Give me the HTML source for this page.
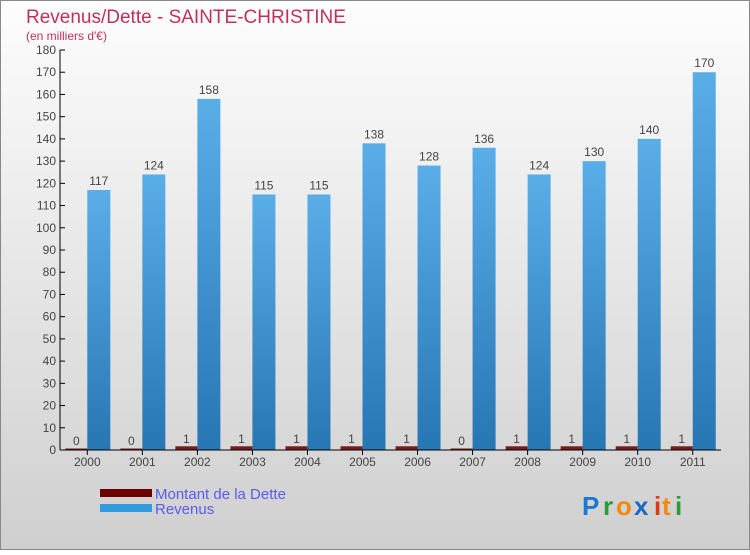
<!DOCTYPE html>
<html><head><meta charset="utf-8"><style>
body{margin:0;width:750px;height:550px;overflow:hidden;font-family:"Liberation Sans",sans-serif}
</style></head><body>
<svg width="750" height="550">
<defs>
<linearGradient id="bg" x1="0" y1="0" x2="0" y2="1"><stop offset="0" stop-color="#fdfdfd"/><stop offset="1" stop-color="#cfcfcf"/></linearGradient>
<linearGradient id="bl" x1="0" y1="0" x2="0" y2="1"><stop offset="0" stop-color="#5aaee8"/><stop offset="1" stop-color="#2676b3"/></linearGradient>
</defs>
<rect x="0.5" y="0.5" width="749" height="549" fill="url(#bg)" stroke="#888"/>
<text x="26" y="23" font-size="19" fill="#c0305e">Revenus/Dette - SAINTE-CHRISTINE</text>
<text x="26" y="40" font-size="12" fill="#c0305e">(en milliers d'€)</text>
<g id="plot"></g>
<g>
<rect x="100" y="489" width="52" height="8" fill="#6b0000"/>
<text x="155" y="499" font-size="15" fill="#5a5af0">Montant de la Dette</text>
<rect x="100" y="504" width="52" height="8" fill="#3399dd"/>
<text x="155" y="514" font-size="15" fill="#5a5af0">Revenus</text>
</g>
<g font-size="26" font-weight="bold">
<text x="582" y="515" fill="#1a7ad0">P</text><text x="603" y="515" fill="#2a9a3a">r</text><text x="616" y="515" fill="#f08a10">o</text><text x="634" y="515" fill="#1a6ac0">x</text><text x="654" y="515" fill="#e03a10">i</text><text x="662" y="515" fill="#f08a10">t</text><text x="675" y="515" fill="#2a9a3a">i</text>
</g>
</svg>
<script>
const years=["2000","2001","2002","2003","2004","2005","2006","2007","2008","2009","2010","2011"];
const debt=[0,0,1,1,1,1,1,0,1,1,1,1];
const revenue=[117,124,158,115,115,138,128,136,124,130,140,170];
const yTicks=[0,10,20,30,40,50,60,70,80,90,100,110,120,130,140,150,160,170,180];
const NS="http://www.w3.org/2000/svg";
const g=document.getElementById('plot');
const y=v=>450-v*400/180;
const x=i=>87.3+i*55.04;
function mk(t,a,txt){const e=document.createElementNS(NS,t);for(const k in a)e.setAttribute(k,a[k]);if(txt!=null)e.textContent=txt;g.appendChild(e);return e;}
let ax=mk('line',{x1:60,y1:50,x2:60,y2:450,stroke:'#000'});

yTicks.forEach(v=>{
 let t=mk('line',{x1:60,y1:y(v),x2:65,y2:y(v),stroke:'#000'});
 
 let l=mk('text',{x:56,y:y(v)+4,'font-size':12,fill:'#444','text-anchor':'end'},v);
 
});
years.forEach((yr,i)=>{
 const cx=x(i);
 let d=mk('rect',{x:cx-22,y:y(debt[i])-1.5,width:22,height:450-y(debt[i])+1.5,fill:'#7a1a1a'});
 
 let dl=mk('text',{x:cx-11,y:y(debt[i])-5,'font-size':12,fill:'#444','text-anchor':'middle'},debt[i]);
 
 let r=mk('rect',{x:cx,y:y(revenue[i]),width:23,height:450-y(revenue[i]),fill:'url(#bl)'});
 
 let rl=mk('text',{x:cx+11.5,y:y(revenue[i])-5,'font-size':12,fill:'#444','text-anchor':'middle'},revenue[i]);
 
 let t=mk('line',{x1:cx,y1:450,x2:cx,y2:455,stroke:'#000'});
 
 let xl=mk('text',{x:cx,y:466,'font-size':12,fill:'#444','text-anchor':'middle'},yr);
 
});
let xa=mk('line',{x1:60,y1:450,x2:721,y2:450,stroke:'#000'});

</script>
</body></html>
